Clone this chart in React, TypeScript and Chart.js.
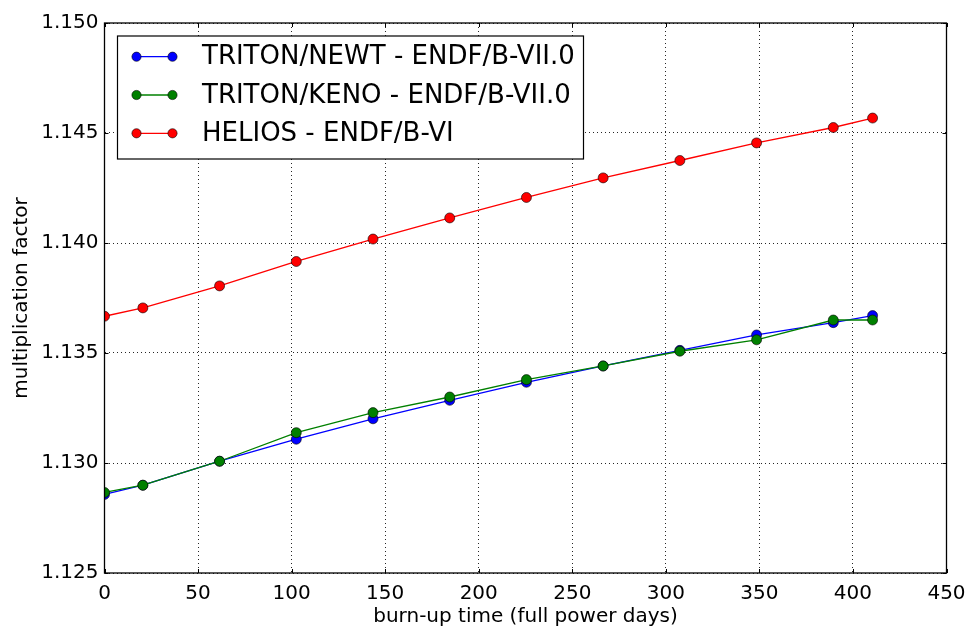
import { useEffect, useRef } from 'react';
import { Chart, registerables } from 'chart.js';

Chart.register(...registerables);

// ---- data ----
const burnupDays = [0, 20.5, 61.5, 102.5, 143.5, 184.5, 225.5, 266.5, 307.5, 348.5, 389.5, 410.5];
const newtK = [1.12857, 1.12899, 1.13008, 1.13108, 1.13201, 1.13285, 1.13367, 1.13441, 1.13512, 1.13582, 1.13638, 1.13670];
const kenoK = [1.12866, 1.12899, 1.13008, 1.13138, 1.13229, 1.13300, 1.13379, 1.13441, 1.13508, 1.13560, 1.13650, 1.13650];
const heliosK = [1.13667, 1.13705, 1.13805, 1.13916, 1.14018, 1.14114, 1.14207, 1.14296, 1.14375, 1.14455, 1.14525, 1.14568];
const seriesLabels = ['TRITON/NEWT - ENDF/B-VII.0', 'TRITON/KENO - ENDF/B-VII.0', 'HELIOS - ENDF/B-VI'];
const seriesColors = ['#0000ff', '#008000', '#ff0000'];
const xAxisTitle = 'burn-up time (full power days)';
const yAxisTitle = 'multiplication factor';

const FONT = "'DejaVu Sans', 'Bitstream Vera Sans', sans-serif";

const toPoints = (ys: number[]) => burnupDays.map((x, i) => ({ x, y: ys[i] }));

const framePlugin = {
  id: 'mplFrame',
  afterDatasetsDraw(chart: any) {
    const { ctx, chartArea } = chart;
    const { left, right, top, bottom } = chartArea;
    const xs = chart.scales.x;
    const ys = chart.scales.y;
    ctx.save();
    ctx.strokeStyle = '#000';
    ctx.lineWidth = 1;
    const tl = 4;
    ctx.beginPath();
    xs.ticks.forEach((t: any) => {
      const px = Math.round(xs.getPixelForValue(t.value)) + 0.5;
      ctx.moveTo(px, bottom);
      ctx.lineTo(px, bottom - tl);
      ctx.moveTo(px, top);
      ctx.lineTo(px, top + tl);
    });
    ys.ticks.forEach((t: any) => {
      const py = Math.round(ys.getPixelForValue(t.value)) + 0.5;
      ctx.moveTo(left, py);
      ctx.lineTo(left + tl, py);
      ctx.moveTo(right, py);
      ctx.lineTo(right - tl, py);
    });
    ctx.stroke();
    ctx.lineWidth = 1.3;
    ctx.strokeRect(left, top, right - left, bottom - top);
    ctx.restore();
  },
};

const legendPlugin = {
  id: 'mplLegend',
  afterDraw(chart: any) {
    const { ctx, chartArea } = chart;
    const boxX = chartArea.left + 13;
    const boxY = chartArea.top + 13;
    const boxW = 466;
    const boxH = 123;
    ctx.save();
    ctx.fillStyle = '#fff';
    ctx.fillRect(boxX, boxY, boxW, boxH);
    ctx.strokeStyle = '#000';
    ctx.lineWidth = 1.2;
    ctx.strokeRect(boxX, boxY, boxW, boxH);
    ctx.font = `26px ${FONT}`;
    ctx.textBaseline = 'middle';
    ctx.textAlign = 'left';
    chart.data.datasets.forEach((ds: any, i: number) => {
      const cy = boxY + 20.7 + i * 38.3;
      const x1 = boxX + 19;
      const x2 = boxX + 55;
      ctx.strokeStyle = ds.borderColor;
      ctx.lineWidth = 1.3;
      ctx.beginPath();
      ctx.moveTo(x1, cy);
      ctx.lineTo(x2, cy);
      ctx.stroke();
      [x1, x2].forEach((mx) => {
        ctx.beginPath();
        ctx.arc(mx, cy, 4.6, 0, Math.PI * 2);
        ctx.fillStyle = ds.backgroundColor;
        ctx.fill();
        ctx.lineWidth = 0.6;
        ctx.strokeStyle = '#000';
        ctx.stroke();
      });
      ctx.fillStyle = '#000';
      ctx.fillText(ds.label, boxX + 84.5, cy + 1);
    });
    ctx.restore();
  },
};

export default function App() {
  const canvasRef = useRef<HTMLCanvasElement | null>(null);

  useEffect(() => {
    const canvas = canvasRef.current;
    if (!canvas) return;
    Chart.defaults.font.family = FONT;
    Chart.defaults.color = '#000';
    const seriesValues = [newtK, kenoK, heliosK];
    const chart = new Chart(canvas, {
      type: 'line',
      data: {
        datasets: seriesValues.map((vals, i) => ({
          label: seriesLabels[i],
          data: toPoints(vals),
          borderColor: seriesColors[i],
          backgroundColor: seriesColors[i],
          borderWidth: 1.3,
          pointRadius: 5,
          pointHoverRadius: 5,
          pointBorderColor: '#000',
          pointBorderWidth: 0.6,
          pointBackgroundColor: seriesColors[i],
          tension: 0,
          fill: false,
          clip: 0,
          order: 3 - i,
        })),
      },
      options: {
        animation: false,
        responsive: false,
        maintainAspectRatio: false,
        events: [],
        layout: { padding: { left: 0, top: 23, right: 21.5, bottom: 0 } },
        plugins: {
          legend: { display: false },
          tooltip: { enabled: false },
        },
        scales: {
          x: {
            type: 'linear',
            min: 0,
            max: 450,
            border: { display: false, dash: [1, 3] },
            grid: {
              color: 'rgba(0,0,0,0.85)',
              lineWidth: 1,
              drawTicks: false,
            },
            ticks: {
              stepSize: 50,
              padding: 9,
              font: { size: 20, family: FONT },
              color: '#000',
              maxRotation: 0,
            },
            title: {
              display: true,
              text: xAxisTitle,
              font: { size: 20, family: FONT },
              color: '#000',
              padding: { top: 0, bottom: 1 },
            },
            afterFit: (scale: any) => {
              scale.height = 57;
              scale.paddingLeft = 0;
              scale.paddingRight = 0;
            },
          },
          y: {
            type: 'linear',
            min: 1.125,
            max: 1.15,
            border: { display: false, dash: [1, 3] },
            grid: {
              color: 'rgba(0,0,0,0.85)',
              lineWidth: 1,
              drawTicks: false,
            },
            ticks: {
              stepSize: 0.005,
              padding: 6,
              font: { size: 20, family: FONT },
              color: '#000',
              callback: (v: any) => Number(v).toFixed(3),
            },
            title: {
              display: true,
              text: yAxisTitle,
              font: { size: 20, family: FONT },
              color: '#000',
              padding: { top: 10, bottom: 0 },
            },
            afterFit: (scale: any) => {
              scale.width = 104.5;
              scale.paddingTop = 0;
              scale.paddingBottom = 0;
            },
          },
        },
      } as any,
      plugins: [framePlugin, legendPlugin],
    });
    return () => chart.destroy();
  }, []);

  return (
    <div style={{ position: 'absolute', left: 0, top: 0, width: 968, height: 630, background: '#fff' }}>
      <canvas ref={canvasRef} width={968} height={630} style={{ display: 'block' }} />
    </div>
  );
}
